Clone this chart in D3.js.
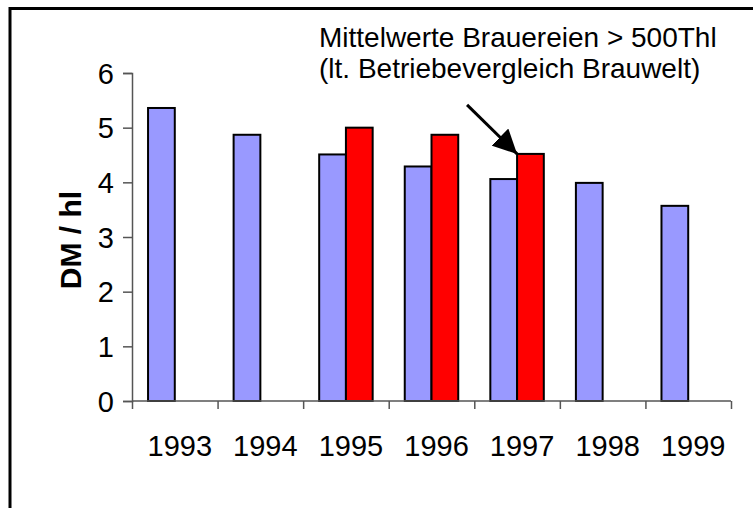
<!DOCTYPE html>
<html>
<head>
<meta charset="utf-8">
<script src="https://cdn.jsdelivr.net/npm/d3@7"></script>
<style>
  body { margin: 0; background: #fff; }
  svg { display: block; }
  svg text { font-family: "Liberation Sans", Arial, sans-serif; fill: #000; }
</style>
</head>
<body>
<svg id="chart"></svg>
<script>
var years = ["1993", "1994", "1995", "1996", "1997", "1998", "1999"]
var ownValues = [5.36, 4.87, 4.51, 4.29, 4.06, 3.99, 3.57]
var benchValues = [null, null, 5.0, 4.87, 4.52, null, null]
var yTicks = [0, 1, 2, 3, 4, 5, 6]
var seriesNames = ["own", "bench"]
var seriesColors = ["#9999ff", "#ff0000"]
var noteLines = ["Mittelwerte Brauereien > 500Thl", "(lt. Betriebevergleich Brauwelt)"]

var screen = {width: 753, height: 508}
var margins = {left: 132, right: 22, top: 73, bottom: 107}
var graph = {
    width: screen.width - margins.left - margins.right,
    height: screen.height - margins.top - margins.bottom
}

var svg = d3.select("#chart")
    .attr("width", screen.width)
    .attr("height", screen.height)

// outer frame, runs off the right and bottom edge
svg.append("rect")
    .attr("x", 10)
    .attr("y", 8.5)
    .attr("width", 800)
    .attr("height", 560)
    .attr("fill", "none")
    .attr("stroke", "#000")
    .attr("stroke-width", 3)

var target = svg.append("g")
    .attr("transform", "translate(" + margins.left + "," + margins.top + ")")

var xScale = d3.scaleBand()
    .domain(years)
    .range([0, graph.width])

var xSub = d3.scaleBand()
    .domain(seriesNames)
    .range([0, xScale.bandwidth()])
    .paddingOuter(0.6)

var xEdge = d3.scaleLinear()
    .domain([0, years.length])
    .range([0, graph.width])

var yScale = d3.scaleLinear()
    .domain([0, 6])
    .range([graph.height, 0])

// bars
var rows = years.map(function(y, i) {
    return {year: y, values: [ownValues[i], benchValues[i]]}
})

var groups = target.selectAll("g.group")
    .data(rows)
    .enter()
    .append("g")
    .classed("group", true)
    .attr("transform", function(d) { return "translate(" + xScale(d.year) + ",0)" })

groups.selectAll("rect")
    .data(function(d) {
        return d.values.map(function(v, j) { return {name: seriesNames[j], value: v, idx: j} })
            .filter(function(e) { return e.value != null })
    })
    .enter()
    .append("rect")
    .attr("x", function(e) { return xSub(e.name) })
    .attr("y", function(e) { return yScale(e.value) })
    .attr("width", xSub.bandwidth())
    .attr("height", function(e) { return graph.height - yScale(e.value) })
    .attr("fill", function(e) { return seriesColors[e.idx] })
    .attr("stroke", "#000")
    .attr("stroke-width", 2)

// axes
var yAxis = d3.axisLeft(yScale)
    .tickValues(yTicks)
    .tickSize(9)
    .tickPadding(9)
    .tickFormat(d3.format("d"))

var yg = target.append("g").call(yAxis)
yg.selectAll("path, line").attr("stroke", "#555").attr("stroke-width", 1.5)
yg.selectAll("text").style("font-size", "29px").attr("dy", "0.35em")

var xg = target.append("g")
    .attr("transform", "translate(0," + graph.height + ")")
    .call(d3.axisBottom(xEdge).tickValues(d3.range(0, years.length + 1)).tickSize(8).tickFormat(""))
xg.selectAll("path, line").attr("stroke", "#555").attr("stroke-width", 1.5)
xg.select("path").attr("d", "M0,0H" + graph.width)

var xl = target.append("g")
    .attr("transform", "translate(5," + graph.height + ")")
    .call(d3.axisBottom(xScale).tickSize(0).tickPadding(34))
xl.select("path").remove()
xl.selectAll("text").style("font-size", "29px")

// axis title
svg.append("text")
    .attr("transform", "translate(81," + 240 + ") rotate(-90)")
    .attr("text-anchor", "middle")
    .style("font-size", "30px")
    .style("font-weight", "bold")
    .text("DM / hl")

// annotation
var note = svg.append("g")
note.selectAll("text")
    .data(noteLines)
    .enter()
    .append("text")
    .attr("x", 319)
    .attr("y", function(d, i) { return 47 + i * 31 })
    .style("font-size", "28px")
    .text(function(d) { return d })

svg.append("defs").append("marker")
    .attr("id", "head")
    .attr("viewBox", "0 0 10 10")
    .attr("refX", 10)
    .attr("refY", 5)
    .attr("markerWidth", 8)
    .attr("markerHeight", 8)
    .attr("markerUnits", "strokeWidth")
    .attr("orient", "auto")
    .append("path")
    .attr("d", "M0,0L10,5L0,10z")
    .attr("fill", "#000")

var tipX = margins.left + xScale("1997") + xSub("bench")
var tipY = margins.top + yScale(benchValues[4])
svg.append("line")
    .attr("x1", tipX - 50)
    .attr("y1", tipY - 49)
    .attr("x2", tipX)
    .attr("y2", tipY)
    .attr("stroke", "#000")
    .attr("stroke-width", 3)
    .attr("marker-end", "url(#head)")
</script>
</body>
</html>
